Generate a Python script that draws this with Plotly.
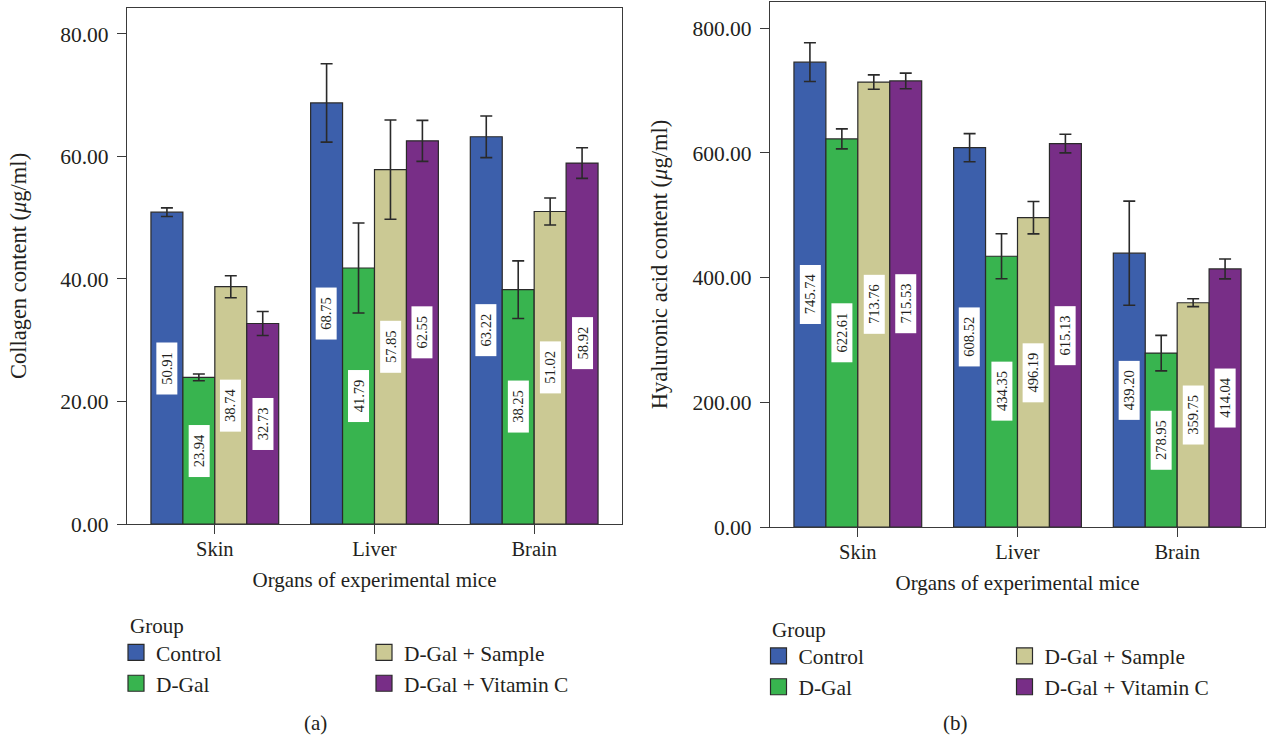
import plotly.graph_objects as go

# ---------------- data ----------------
organs = ["Skin", "Liver", "Brain"]
groups = ["Control", "D-Gal", "D-Gal + Sample", "D-Gal + Vitamin C"]
group_colors = ["#3C5FAB", "#38B44F", "#CBC994", "#782E87"]

collagen_control = [50.91, 68.75, 63.22]
collagen_dgal = [23.94, 41.79, 38.25]
collagen_sample = [38.74, 57.85, 51.02]
collagen_vitc = [32.73, 62.55, 58.92]

collagen_err_control = [0.7, 6.4, 3.4]
collagen_err_dgal = [0.55, 7.35, 4.7]
collagen_err_sample = [1.8, 8.1, 2.2]
collagen_err_vitc = [1.95, 3.35, 2.5]

ha_control = [745.74, 608.52, 439.20]
ha_dgal = [622.61, 434.35, 278.95]
ha_sample = [713.76, 496.19, 359.75]
ha_vitc = [715.53, 615.13, 414.04]

ha_err_control = [31, 22.5, 83.5]
ha_err_dgal = [16, 36, 28.5]
ha_err_sample = [11.5, 26, 6.3]
ha_err_vitc = [12.5, 15, 16]

collagen_ticks = [0, 20, 40, 60, 80]
ha_ticks = [0, 200, 400, 600, 800]

# ---------------- styling ----------------
W, H = 1266, 737
FONT = "Liberation Serif"
TXT = "#231F20"
LINE = "#3a3a3a"


def px_x(p):
    return p / W


def px_y(p):
    return 1 - p / H


fig = go.Figure()

panels = [
    dict(xa="x", ya="y", vals=[collagen_control, collagen_dgal, collagen_sample, collagen_vitc],
         errs=[collagen_err_control, collagen_err_dgal, collagen_err_sample, collagen_err_vitc],
         legends=["legend", "legend2"]),
    dict(xa="x2", ya="y2", vals=[ha_control, ha_dgal, ha_sample, ha_vitc],
         errs=[ha_err_control, ha_err_dgal, ha_err_sample, ha_err_vitc],
         legends=["legend3", "legend4"]),
]

n = len(groups)
bar_w = 0.8 / n
annotations = []
for p in panels:
    for gi, (g, c, v, e) in enumerate(zip(groups, group_colors, p["vals"], p["errs"])):
        fig.add_trace(go.Bar(
            x=organs, y=v, name=g, xaxis=p["xa"], yaxis=p["ya"],
            marker=dict(color=c, line=dict(color="#2a2a2a", width=1.2)),
            error_y=dict(type="data", array=e, color="#2a2a2a", thickness=1.6, width=6),
            showlegend=False, offsetgroup=str(gi),
        ))
        # legend entry (square swatch)
        fig.add_trace(go.Scatter(
            x=[None], y=[None], mode="markers", name=g, xaxis=p["xa"], yaxis=p["ya"],
            marker=dict(symbol="square", size=16, color=c, line=dict(color="#2a2a2a", width=1.2)),
            legend=p["legends"][0] if gi < 2 else p["legends"][1],
            legendgroup=p["xa"] + g, showlegend=True,
        ))
        for oi, val in enumerate(v):
            annotations.append(dict(
                x=oi - 0.4 + bar_w * (gi + 0.5), y=val / 2, xref=p["xa"], yref=p["ya"],
                text="\u2002%.2f\u2002" % val, textangle=-90, showarrow=False,
                bgcolor="white", borderpad=2,
                font=dict(family=FONT, size=14.5, color=TXT),
            ))

axis_common = dict(
    showline=True, mirror=True, linecolor=LINE, linewidth=1.3,
    ticks="outside", ticklen=9, tickwidth=1.3, tickcolor=LINE,
    showgrid=False, zeroline=False, automargin=False,
)
xtick_font = dict(family=FONT, size=20.5, color=TXT)
ytick_font = dict(family=FONT, size=21.5, color=TXT)
xtitle_font = dict(family=FONT, size=21, color=TXT)
ytitle_font = dict(family=FONT, size=22.5, color=TXT)
LEG_SIZE = 21.4

legend_common = dict(
    orientation="v", xanchor="left", yanchor="top", bgcolor="rgba(0,0,0,0)",
    font=dict(family=FONT, size=LEG_SIZE, color=TXT), traceorder="grouped", tracegroupgap=0,
    itemclick=False, itemdoubleclick=False,
)

xtitle = "Organs of experimental mice"

fig.update_layout(
    width=W, height=H, margin=dict(l=0, r=0, t=0, b=0, autoexpand=False),
    paper_bgcolor="white", plot_bgcolor="white",
    barmode="group", bargap=0.2, bargroupgap=0,
    font=dict(family=FONT, color=TXT),
    xaxis=dict(axis_common, domain=[px_x(127), px_x(622)], range=[-0.55, 2.55],
               ticklabelstandoff=-3, tickfont=xtick_font,
               title=dict(text=xtitle, font=xtitle_font, standoff=13),
               anchor="y"),
    yaxis=dict(axis_common, domain=[px_y(524), px_y(8)], range=[0, 84.24],
               tickvals=collagen_ticks, tickformat=".2f", ticklabelstandoff=4, tickfont=ytick_font,
               title=dict(text="Collagen content (<i>\u03bc</i>g/ml)", font=ytitle_font, standoff=27),
               anchor="x"),
    xaxis2=dict(axis_common, domain=[px_x(770), px_x(1265)], range=[-0.55, 2.55],
                ticklabelstandoff=-3, tickfont=xtick_font,
                title=dict(text=xtitle, font=xtitle_font, standoff=13),
                anchor="y2"),
    yaxis2=dict(axis_common, domain=[px_y(527), px_y(2)], range=[0, 842.2],
                tickvals=ha_ticks, tickformat=".2f", ticklabelstandoff=4, tickfont=ytick_font,
                title=dict(text="Hyaluronic acid content (<i>\u03bc</i>g/ml)", font=ytitle_font, standoff=18),
                anchor="x2"),
    legend=dict(legend_common, x=px_x(116), y=px_y(632)),
    legend2=dict(legend_common, x=px_x(364), y=px_y(632)),
    legend3=dict(legend_common, x=px_x(758.5), y=px_y(635.5)),
    legend4=dict(legend_common, x=px_x(1004.5), y=px_y(635.5)),
    annotations=annotations + [
        dict(x=px_x(128), y=px_y(626), xref="paper", yref="paper", text="Group", showarrow=False,
             xanchor="left", yanchor="middle", font=dict(family=FONT, size=21, color=TXT)),
        dict(x=px_x(770), y=px_y(630), xref="paper", yref="paper", text="Group", showarrow=False,
             xanchor="left", yanchor="middle", font=dict(family=FONT, size=21, color=TXT)),
        dict(x=px_x(315), y=px_y(723), xref="paper", yref="paper", text="(a)", showarrow=False,
             xanchor="center", yanchor="middle", font=dict(family=FONT, size=21, color=TXT)),
        dict(x=px_x(956), y=px_y(723), xref="paper", yref="paper", text="(b)", showarrow=False,
             xanchor="center", yanchor="middle", font=dict(family=FONT, size=21, color=TXT)),
    ],
)

fig.write_html(
    "out.html",
    config={"displayModeBar": False},
    post_script="document.body.style.margin='0';document.body.style.overflow='hidden';",
)
